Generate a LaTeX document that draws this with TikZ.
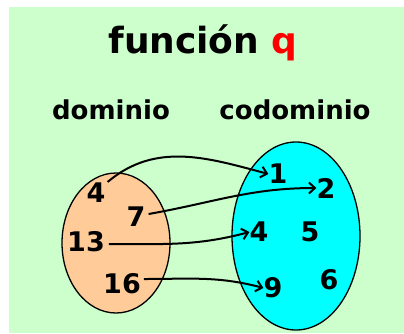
\documentclass[tikz,border=0pt]{standalone}
\usepackage{fontspec}
\setmainfont{DejaVu Sans}
\usetikzlibrary{arrows.meta}
\definecolor{fondo}{HTML}{CCFFCC}
\definecolor{piel}{HTML}{FFCC99}
\definecolor{celeste}{HTML}{00FFFF}
\begin{document}
\begin{tikzpicture}[
x=1pt,y=-1pt,
conj/.style={draw,line width=1.3pt},
num/.style={font=\fontsize{27}{27}\bfseries\selectfont,inner sep=0pt},
rot/.style={font=\fontsize{26}{26}\bfseries\selectfont,inner sep=0pt},
edge/.style={line width=2pt,-{Straight Barb[length=6pt,width=11pt,line width=2pt]}}
]
\useasboundingbox (0,0) rectangle (404,333);
\fill[fondo] (9,7) rectangle (404,333);

\node[font=\fontsize{36}{36}\bfseries\selectfont,inner sep=0pt] (titulo) at (203,43) {función \textcolor{red}{q}};
\node[rot] (dom) at (111,110) {dominio};
\node[rot] (cod) at (295,110) {codominio};

\draw[conj,fill=piel] (116,243) ellipse [x radius=54,y radius=70];
\draw[conj,fill=celeste] (296,236) ellipse [x radius=64,y radius=94];

\node[num] (a4) at (96,193) {4};
\node[num] (a7) at (136,217) {7};
\node[num] (a13) at (86,242) {13};
\node[num] (a16) at (122,284) {16};

\node[num] (b1) at (278,174) {1};
\node[num] (b2) at (326,188) {2};
\node[num] (b4) at (259,232) {4};
\node[num] (b5) at (310,232) {5};
\node[num] (b9) at (273,288) {9};
\node[num] (b6) at (329,280) {6};

\draw[edge] (a4.north east) ++(2,-1) to[out=40,in=165] (b1.west);
\draw[edge] (a7.east) ++(3,-3) to[out=10,in=180] (b2.west);
\draw[edge] (a13.east) ++(4,2) to[out=0,in=195] (b4.west);
\draw[edge] (a16.east) ++(3,-5) to[out=0,in=165] (b9.west);

\end{tikzpicture}
\end{document}
